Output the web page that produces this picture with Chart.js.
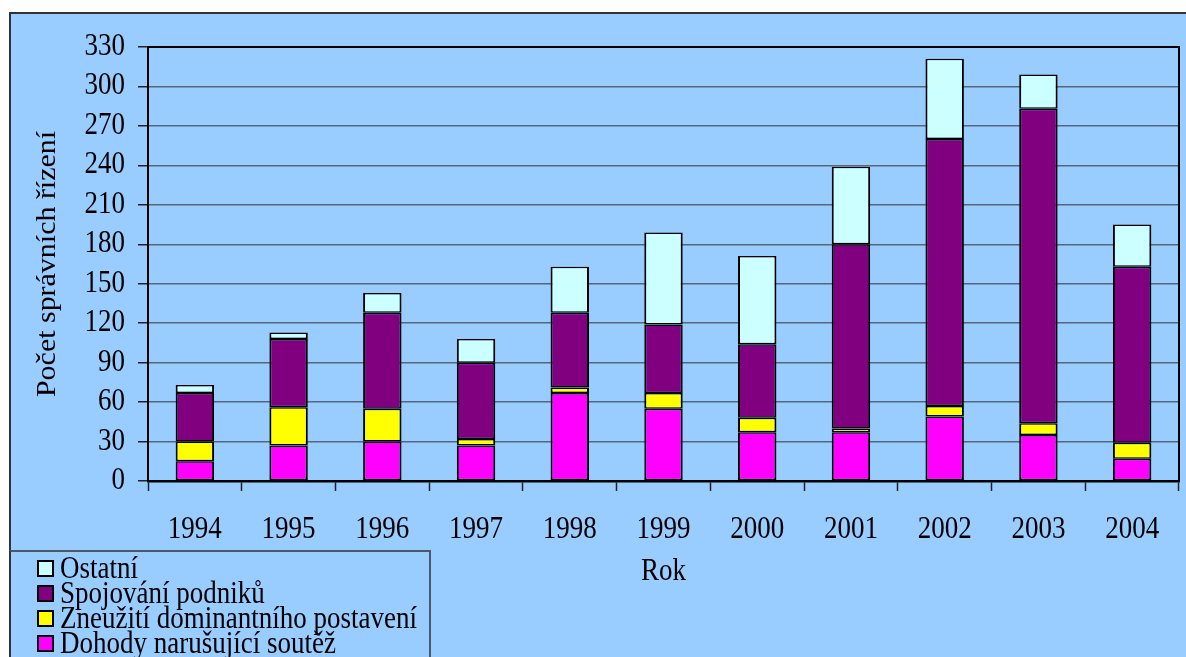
<!DOCTYPE html>
<html>
<head>
<meta charset="utf-8">
<script src="https://cdn.jsdelivr.net/npm/chart.js@4.4.1/dist/chart.umd.min.js"></script>
<style>
  html, body { margin: 0; padding: 0; background: #ffffff; width: 1186px; height: 657px; overflow: hidden; }
  #frame { position: absolute; left: 9px; top: 12px; width: 1200px; height: 700px; background: #99CCFF; border-top: 2px solid #333333; border-left: 2px solid #333333; }
  #chart { position: absolute; left: 0; top: 0; }
  #legend { position: absolute; left: 9px; top: 550px; width: 422px; height: 120px; border-top: 2px solid #4a5868; border-right: 2px solid #4a5868; border-left: 2px solid #333333; font-family: 'Liberation Serif', 'Times New Roman', serif; font-size: 27px; color: #000; padding-top: 4px; box-sizing: border-box; }
  .item { height: 25px; line-height: 25px; white-space: nowrap; position: relative; padding-left: 49px; }
  .item .tx { display: inline-block; transform: scaleY(1.13); transform-origin: 50% 55%; }
  .sw { position: absolute; left: 26px; top: 4px; width: 13px; height: 13px; border: 2px solid #000; }
</style>
</head>
<body>
<div id="frame"></div>
<canvas id="chart" width="1186" height="657"></canvas>
<div id="legend"></div>
<script>
const categories = ['1994','1995','1996','1997','1998','1999','2000','2001','2002','2003','2004'];
const seriesNames = ['Dohody narušující soutěž', 'Zneužití dominantního postavení', 'Spojování podniků', 'Ostatní'];
const dohody     = [15, 27, 30, 27, 67, 55, 37, 37, 49, 35, 17];
const zneuziti   = [15, 29, 25,  5,  4, 12, 11,  3,  8,  9, 12];
const spojovani  = [37, 52, 73, 58, 57, 52, 56, 140, 203, 239, 134];
const ostatni    = [ 6,  5, 15, 18, 35, 70, 67, 59, 61, 26, 32];
const seriesColors = ['#FF00FF', '#FFFF00', '#800080', '#CCFFFF'];
const yTitle = 'Počet správních řízení';
const xTitle = 'Rok';
const yMin = 0, yMax = 330, yStep = 30;

const seriesValues = [dohody, zneuziti, spojovani, ostatni];
const FONT = "'Liberation Serif', 'Times New Roman', serif";
const STRETCH = 1.13;

const canvas = document.getElementById('chart');
const ctx2d = canvas.getContext('2d');
const origFill = ctx2d.fillText;
ctx2d.fillText = function (text, x, y, maxWidth) {
  const m = this.getTransform();
  const rotated = Math.abs(m.b) > 0.5;
  this.save();
  this.translate(x, y);
  if (rotated) this.scale(STRETCH, 1); else this.scale(1, STRETCH);
  if (maxWidth !== undefined) origFill.call(this, text, 0, 0, maxWidth);
  else origFill.call(this, text, 0, 0);
  this.restore();
};

const datasets = seriesNames.map((name, i) => ({
  label: name,
  data: seriesValues[i],
  backgroundColor: seriesColors[i],
  borderColor: '#000000',
  borderWidth: { left: 2, right: 2, top: 1.5, bottom: 1.5 },
  borderSkipped: false,
  barPercentage: 0.41,
  categoryPercentage: 1.0
}));

const plotBorder = {
  id: 'plotBorder',
  afterDraw(chart) {
    const { ctx, chartArea: a } = chart;
    ctx.save();
    ctx.strokeStyle = '#000';
    ctx.lineWidth = 2;
    ctx.strokeRect(a.left, a.top, a.right - a.left, a.bottom - a.top);
    ctx.restore();
  }
};

new Chart(canvas, {
  type: 'bar',
  data: { labels: categories, datasets },
  options: {
    responsive: false,
    animation: false,
    devicePixelRatio: 1,
    layout: { padding: { top: 47, right: 7, left: 0, bottom: 0 } },
    plugins: { legend: { display: false }, tooltip: { enabled: false } },
    scales: {
      x: {
        stacked: true,
        afterFit(scale) { scale.height = 176; },
        grid: { offset: true, drawOnChartArea: false, drawTicks: true, tickLength: 10, tickColor: '#222', tickWidth: 1.5 },
        border: { display: true, color: '#000', width: 2.5 },
        ticks: { color: '#000', font: { family: FONT, size: 27 }, padding: 23, maxRotation: 0 },
        title: { display: true, text: xTitle, color: '#000', font: { family: FONT, size: 27 }, padding: { top: 0, bottom: 69 } }
      },
      y: {
        stacked: true,
        min: yMin, max: yMax,
        afterFit(scale) { scale.width = 148; },
        grid: { color: '#56677a', lineWidth: 1.5, tickLength: 10, tickColor: '#222', tickWidth: 1.5 },
        border: { display: true, color: '#000', width: 2 },
        ticks: { stepSize: yStep, color: '#000', font: { family: FONT, size: 27 }, padding: 13 },
        title: { display: true, text: yTitle, color: '#000', font: { family: FONT, size: 26.5 }, padding: { top: 32, bottom: 0 } }
      }
    }
  },
  plugins: [plotBorder]
});

const legend = document.getElementById('legend');
for (let i = seriesNames.length - 1; i >= 0; i--) {
  const row = document.createElement('div');
  row.className = 'item';
  const sw = document.createElement('span');
  sw.className = 'sw';
  sw.style.background = seriesColors[i];
  row.appendChild(sw);
  const tx = document.createElement('span');
  tx.className = 'tx';
  tx.textContent = seriesNames[i];
  row.appendChild(tx);
  legend.appendChild(row);
}
</script>
</body>
</html>
